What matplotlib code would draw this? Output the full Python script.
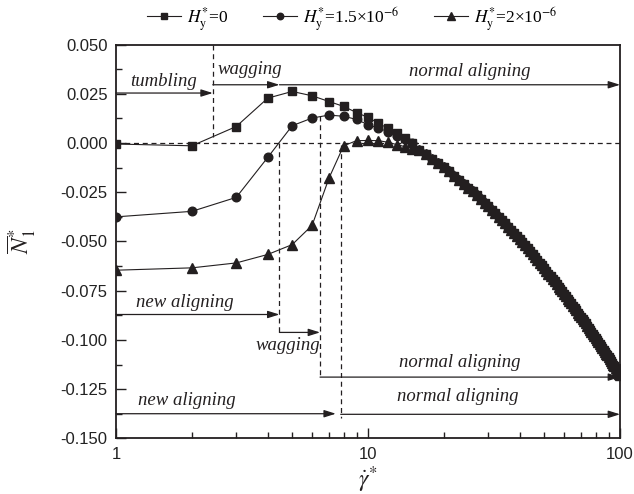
import matplotlib
matplotlib.use("Agg")
import matplotlib.pyplot as plt
from matplotlib.ticker import FixedLocator, NullFormatter, MultipleLocator, FormatStrFormatter

plt.rcParams['mathtext.fontset'] = 'stix'
plt.rcParams['font.family'] = ['Liberation Sans', 'DejaVu Sans']

# ---- data ----
x_head = list(range(1, 16))
x_tail = list(range(16, 101))

n1_h0_head = [-0.0005, -0.0014, 0.0084, 0.0228, 0.0262, 0.0240, 0.0211, 0.0186,
              0.0155, 0.0130, 0.0101, 0.0074, 0.0049, 0.0025, 0.0000]
n1_h15_head = [-0.0375, -0.0347, -0.0276, -0.0073, 0.0088, 0.0127, 0.0142, 0.0136,
               0.0120, 0.0093, 0.0076, 0.0057, 0.0038, 0.0018, -0.0002]
n1_h2_head = [-0.0646, -0.0634, -0.0609, -0.0566, -0.0516, -0.0418, -0.0178, -0.0014,
              0.0012, 0.0013, 0.0012, 0.0004, -0.0008, -0.0018, -0.0028]

# common part of the three curves for shear rate 16..100
n1_tail = [-0.0033, -0.0056, -0.0079, -0.0101, -0.0123, -0.0144, -0.0165, -0.0186,
           -0.0206, -0.0226, -0.0246, -0.0265, -0.0284, -0.0303, -0.0321, -0.0339,
           -0.0357, -0.0374, -0.0391, -0.0408, -0.0425, -0.0441, -0.0458, -0.0474,
           -0.0489, -0.0505, -0.0520, -0.0535, -0.0550, -0.0565, -0.0580, -0.0594,
           -0.0608, -0.0622, -0.0636, -0.0650, -0.0663, -0.0677, -0.0690, -0.0703,
           -0.0716, -0.0729, -0.0741, -0.0754, -0.0766, -0.0778, -0.0791, -0.0802,
           -0.0814, -0.0826, -0.0838, -0.0849, -0.0861, -0.0872, -0.0883, -0.0895,
           -0.0905, -0.0916, -0.0927, -0.0938, -0.0949, -0.0959, -0.0970, -0.0980,
           -0.0990, -0.1001, -0.1011, -0.1021, -0.1031, -0.1040, -0.1050, -0.1060,
           -0.1070, -0.1079, -0.1089, -0.1098, -0.1108, -0.1117, -0.1126, -0.1135,
           -0.1144, -0.1153, -0.1162, -0.1171, -0.1180]

series_labels = [r'$H_{\mathrm{y}}^{*}$=0',
                 r'$H_{\mathrm{y}}^{*}$=1.5×10$^{-6}$',
                 r'$H_{\mathrm{y}}^{*}$=2×10$^{-6}$']
series_markers = ['s', 'o', '^']

# regime boundaries (shear rate)
x_b1 = 2.42
x_b2 = 4.45
x_b3 = 6.45
x_b4 = 7.79

ink = '#231f20'

fig = plt.figure(figsize=(6.34, 4.94), dpi=100)
ax = fig.add_axes([0.183, 0.1127, 0.795, 0.797])

xs = x_head + x_tail
handles = []
for head, mk, lab, ms in zip([n1_h0_head, n1_h15_head, n1_h2_head], series_markers,
                             series_labels, [5.6, 6.2, 6.8]):
    h, = ax.plot(xs, head + n1_tail, color=ink, lw=0.8, marker=mk, ms=ms,
                 mfc=ink, mec=ink, label=lab)
    handles.append(h)

ax.set_xscale('log')
ax.set_xlim(1, 100)
ax.set_ylim(-0.150, 0.050)

# dashed guide lines
dkw = dict(color=ink, lw=0.9, ls=(0, (4, 3)))
ax.plot([1, 100], [0, 0], **dkw)
ax.plot([x_b1, x_b1], [0.050, 0.003], **dkw)
ax.plot([x_b2, x_b2], [0.0, -0.0962], **dkw)
ax.plot([x_b3, x_b3], [0.0135, -0.1189], **dkw)
ax.plot([x_b4, x_b4], [-0.001, -0.1398], **dkw)

def arrow(x0, x1, y):
    ax.annotate('', xy=(x1, y), xytext=(x0, y),
                arrowprops=dict(arrowstyle='-|>,head_length=0.7,head_width=0.22',
                                color=ink, lw=0.9, shrinkA=0, shrinkB=0))

arrow(1, x_b1, 0.0254)
arrow(x_b1, x_b2, 0.0296)
arrow(x_b2, 100, 0.0296)
arrow(1, x_b2, -0.0871)
arrow(x_b2, x_b3, -0.0962)
arrow(x_b3, 100, -0.1189)
arrow(1, 7.45, -0.1375)
arrow(x_b4, 100, -0.1378)

tkw = dict(family='Liberation Serif', style='italic', fontsize=13.5, color=ink,
           ha='center', va='center')
ax.text(1.54, 0.0312, 'tumbling', **tkw)
ax.text(3.4, 0.0372, 'wagging', **tkw)
ax.text(25.4, 0.0362, 'normal aligning', **tkw)
ax.text(1.88, -0.0808, 'new aligning', **tkw)
ax.text(4.8, -0.1028, 'wagging', **tkw)
ax.text(23.2, -0.1116, 'normal aligning', **tkw)
ax.text(1.91, -0.1310, 'new aligning', **tkw)
ax.text(22.8, -0.1285, 'normal aligning', **tkw)

# ticks
ax.xaxis.set_major_locator(FixedLocator([1, 10, 100]))
ax.set_xticklabels(['1', '10', '100'])
ax.xaxis.set_minor_locator(FixedLocator([2, 3, 4, 5, 6, 7, 8, 9,
                                         20, 30, 40, 50, 60, 70, 80, 90]))
ax.xaxis.set_minor_formatter(NullFormatter())
ax.yaxis.set_major_locator(MultipleLocator(0.025))
ax.yaxis.set_minor_locator(MultipleLocator(0.0125))
ax.yaxis.set_major_formatter(FormatStrFormatter('%.3f'))
ax.tick_params(which='both', direction='in', top=False, right=False,
               colors=ink, labelsize=12, width=1.0)
ax.tick_params(which='major', length=7, pad=6)
ax.tick_params(which='minor', length=4)
for t in ax.get_xticklabels() + ax.get_yticklabels():
    t.set_color('#222222')
for s in ax.spines.values():
    s.set_linewidth(1.3)
    s.set_color(ink)

ax.set_xlabel(r'$\dot{\gamma}^{*}$', fontsize=17, labelpad=2, color=ink)
ax.set_ylabel(r'$\overline{N}_{1}^{*}$', fontsize=17, labelpad=16, color=ink)

leg = fig.legend(handles=handles, loc='center', bbox_to_anchor=(0.555, 0.962),
                 ncol=3, frameon=False, handlelength=2.0, columnspacing=2.0,
                 handletextpad=0.3, markerscale=0.75,
                 prop={'family': 'Liberation Serif', 'size': 12.5})

fig.savefig('out.png', dpi=100)
